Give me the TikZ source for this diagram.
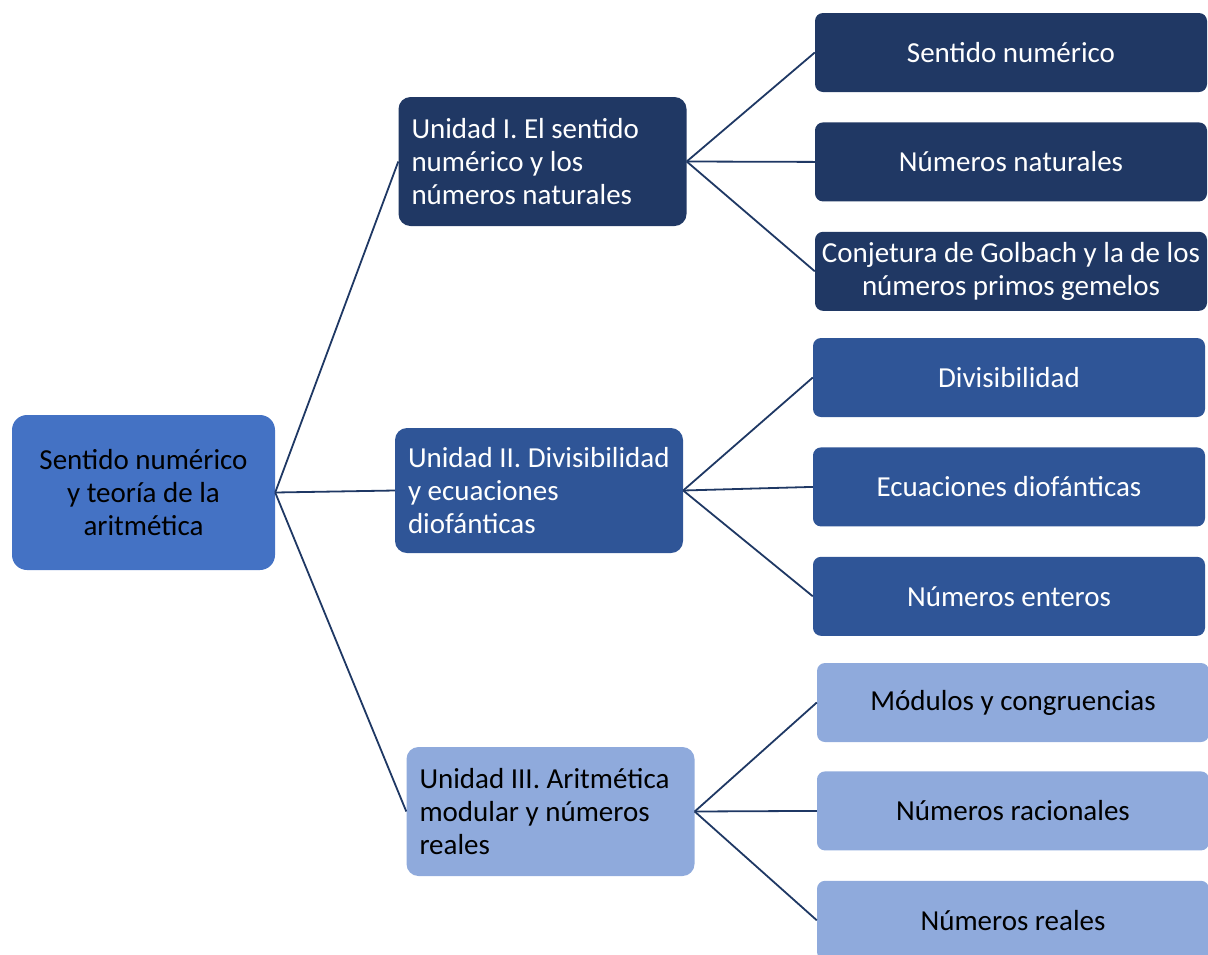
\documentclass[tikz,border=0pt]{standalone}
\usepackage{fontspec}
\setmainfont{Carlito}
\usetikzlibrary{positioning}
\definecolor{rootblue}{HTML}{4472C4}
\definecolor{navy}{HTML}{203864}
\definecolor{midblue}{HTML}{2F5597}
\definecolor{paleblue}{HTML}{8FAADC}
\definecolor{linkblue}{HTML}{1F3864}

\begin{document}
\begin{tikzpicture}[
  x=1pt, y=-1pt, font=\fontsize{29}{33}\selectfont,
  box/.style = {rectangle, rounded corners=8pt, inner ysep=0pt},
  rootbox/.style = {box, fill=rootblue, rounded corners=15pt, minimum width=263pt, minimum height=155pt, text width=250pt, inner xsep=6.5pt, align=flush center},
  unit/.style = {box, rounded corners=12pt, minimum height=129pt, inner xsep=13pt, text width=262pt, align=flush left},
  leaf/.style = {box, minimum width=392pt, minimum height=79pt, inner xsep=0pt, text width=392pt, align=flush center},
  dark/.style = {fill=navy, text=white},
  mid/.style = {fill=midblue, text=white},
  pale/.style = {fill=paleblue, text=black},
  link/.style = {draw=linkblue, line width=1.8pt}
  ]
  \useasboundingbox (0,0) rectangle (1208,954);
  \clip (0,0) rectangle (1208,954);
  \node[rootbox] (root) at (143.5,492.5) {Sentido numérico\\ y teoría de la\\ aritmética};
  % unidades
  \node[unit, dark] (u1) at (542.5,161.5) {Unidad I. El sentido\\ numérico y los\\ números naturales};
  \node[unit, mid, minimum height=125pt] (u2) at (539,490.5) {Unidad II. Divisibilidad\\ y ecuaciones\\ diofánticas};
  \node[unit, pale] (u3) at (550.5,811.5) {Unidad III. Aritmética\\ modular y números\\ reales};
  % temas
  \node[leaf, dark] (t1) at (1011,52.5) {Sentido numérico};
  \node[leaf, dark, below=30pt of t1] (t2) {Números naturales};
  \node[leaf, dark, below=30pt of t2] (t3) {Conjetura de Golbach y la de los\\ números primos gemelos};
  \node[leaf, mid] (t4) at (1009,377.5) {Divisibilidad};
  \node[leaf, mid, below=30pt of t4] (t5) {Ecuaciones diofánticas};
  \node[leaf, mid, below=30pt of t5] (t6) {Números enteros};
  \node[leaf, pale] (t7) at (1013,702.5) {Módulos y congruencias};
  \node[leaf, pale, below=29pt of t7] (t8) {Números racionales};
  \node[leaf, pale, below=30pt of t8] (t9) {Números reales};
  \foreach \u in {u1,u2,u3}
    \draw[link] (root.east) -- (\u.west);
  \foreach \t in {t1,t2,t3}
    \draw[link] (u1.east) -- (\t.west);
  \foreach \t in {t4,t5,t6}
    \draw[link] (u2.east) -- (\t.west);
  \foreach \t in {t7,t8,t9}
    \draw[link] (u3.east) -- (\t.west);
\end{tikzpicture}
\end{document}
